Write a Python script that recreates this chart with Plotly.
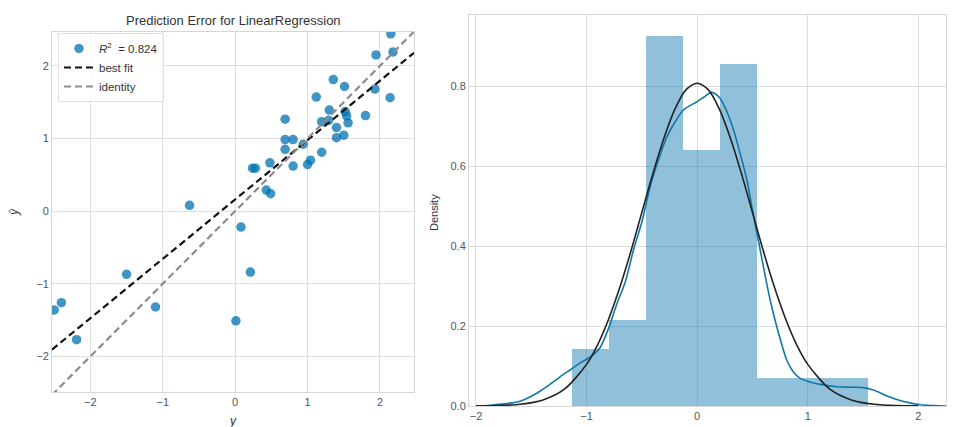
import plotly.graph_objects as go

# ---------------- data: left panel (prediction error) ----------------
y_true = [-2.50, -2.40, -2.19, -1.50, -1.10, -0.63, 0.01, 0.08, 0.21, 0.24, 0.28,
          0.43, 0.49, 0.48, 0.69, 0.69, 0.80, 0.69, 0.80, 0.94, 1.00, 1.04, 1.12,
          1.195, 1.195, 1.29, 1.30, 1.355, 1.40, 1.40, 1.50, 1.51, 1.52, 1.54,
          1.56, 1.80, 1.93, 1.945, 2.14, 2.15, 2.18]
y_pred = [-1.36, -1.26, -1.77, -0.87, -1.32, 0.08, -1.51, -0.22, -0.84, 0.59, 0.59,
          0.29, 0.24, 0.665, 1.265, 0.985, 0.985, 0.85, 0.62, 0.92, 0.64, 0.70, 1.57,
          0.81, 1.23, 1.25, 1.39, 1.81, 1.15, 1.01, 1.045, 1.715, 1.37, 1.31,
          1.215, 1.315, 1.68, 2.15, 1.56, 2.44, 2.19]
bestfit_x = [-2.53, 2.47]
bestfit_y = [-1.907, 2.178]
identity_xy = [-2.53, 2.47]
r2_label = "<i>R</i><sup>2</sup>  = 0.824"

# ---------------- data: right panel (residual density) ----------------
bin_edges = [-1.136, -0.801, -0.467, -0.132, 0.203, 0.537, 0.872, 1.206, 1.541]
bin_density = [0.142, 0.214, 0.925, 0.641, 0.854, 0.0712, 0.0712, 0.0712]

kde_x = [-1.95, -1.87, -1.72, -1.60, -1.45, -1.34, -1.24, -1.15, -1.06, -0.953,
         -0.88, -0.80, -0.72, -0.65, -0.576, -0.50, -0.425, -0.35, -0.274, -0.20,
         -0.124, 0.0, 0.06, 0.133, 0.208, 0.27, 0.329, 0.39, 0.45, 0.50, 0.57,
         0.66, 0.736, 0.81, 0.87, 0.932, 1.02, 1.113, 1.264, 1.40, 1.50, 1.595,
         1.717, 1.867, 2.018, 2.15, 2.26]
kde_y = [0.0, 0.002, 0.006, 0.012, 0.032, 0.052, 0.073, 0.09, 0.107, 0.125,
         0.145, 0.195, 0.26, 0.31, 0.39, 0.46, 0.548, 0.615, 0.673, 0.71,
         0.74, 0.761, 0.772, 0.784, 0.769, 0.735, 0.69, 0.63, 0.565, 0.49, 0.39,
         0.265, 0.182, 0.115, 0.085, 0.069, 0.06, 0.054, 0.048, 0.047, 0.046, 0.04,
         0.025, 0.011, 0.003, 0.001, 0.0]

fit_x = [-2.0, -1.8, -1.6, -1.4, -1.2, -1.0, -0.9, -0.8, -0.7, -0.6, -0.5, -0.4,
         -0.3, -0.2, -0.1, 0.0, 0.1, 0.2, 0.3, 0.4, 0.5, 0.6, 0.7, 0.8, 0.9, 1.0,
         1.2, 1.4, 1.6, 1.8, 2.0]
fit_y = [0.0002, 0.001, 0.0043, 0.0145, 0.042, 0.104, 0.153, 0.2175, 0.296, 0.386,
         0.484, 0.581, 0.670, 0.743, 0.791, 0.807, 0.791, 0.743, 0.670, 0.581,
         0.484, 0.386, 0.296, 0.2175, 0.153, 0.104, 0.042, 0.0145, 0.0043, 0.001,
         0.0002]

x_ticks_left = [-2, -1, 0, 1, 2]
y_ticks_left = [-2, -1, 0, 1, 2]
x_ticks_right = [-2, -1, 0, 1, 2]
y_ticks_right = [0.0, 0.2, 0.4, 0.6, 0.8]

BLUE = "#0072B2"
FONT = "Liberation Sans"
GRID = "#dedede"
LINE = "#d6d6d6"
TICKC = "#555555"

W, H = 956, 427

def px_x(p):
    return p / W

def px_y(p):
    return (H - p) / H

fig = go.Figure()

# left panel
fig.add_trace(go.Scatter(
    x=y_true, y=y_pred, mode="markers", name=r2_label,
    marker=dict(color=BLUE, size=9.5, opacity=0.75, line=dict(width=0)),
    xaxis="x", yaxis="y"))
fig.add_trace(go.Scatter(
    x=bestfit_x, y=bestfit_y, mode="lines", name="best fit",
    line=dict(color="#111111", width=2.2, dash="7px,4px"),
    xaxis="x", yaxis="y"))
fig.add_trace(go.Scatter(
    x=identity_xy, y=identity_xy, mode="lines", name="identity",
    line=dict(color="#8c8c8c", width=2.2, dash="7px,4px"),
    xaxis="x", yaxis="y"))

# right panel
centers = [(bin_edges[i] + bin_edges[i + 1]) / 2 for i in range(len(bin_density))]
widths = [bin_edges[i + 1] - bin_edges[i] for i in range(len(bin_density))]
fig.add_trace(go.Bar(
    x=centers, y=bin_density, width=widths, showlegend=False,
    marker=dict(color="rgba(0,110,170,0.43)", line=dict(width=0)),
    xaxis="x2", yaxis="y2"))
fig.add_trace(go.Scatter(
    x=kde_x, y=kde_y, mode="lines", showlegend=False,
    line=dict(color="#1177a8", width=1.6, shape="spline", smoothing=0.8),
    xaxis="x2", yaxis="y2"))
fig.add_trace(go.Scatter(
    x=fit_x, y=fit_y, mode="lines", showlegend=False,
    line=dict(color="#222222", width=1.6, shape="spline", smoothing=0.8),
    xaxis="x2", yaxis="y2"))

axis_common = dict(
    showgrid=True, gridcolor=GRID, gridwidth=1, zeroline=False,
    showline=True, linecolor=LINE, linewidth=1, mirror=True,
    ticks="", automargin=False,
    tickfont=dict(family=FONT, size=11, color=TICKC),
)

def ann(text, x, y, size, angle=0):
    return dict(text=text, x=px_x(x), y=px_y(y), xref="paper", yref="paper",
                xanchor="center", yanchor="middle", showarrow=False,
                textangle=angle, font=dict(family=FONT, size=size, color="#333333"))

fig.update_layout(
    width=W, height=H,
    margin=dict(l=0, r=0, t=0, b=0, autoexpand=False),
    paper_bgcolor="white", plot_bgcolor="white",
    bargap=0,
    font=dict(family=FONT, color="#333333"),
    xaxis=dict(domain=[px_x(52), px_x(414)], range=[-2.53, 2.47],
               tickvals=x_ticks_left, anchor="y", **axis_common),
    yaxis=dict(domain=[px_y(392), px_y(32)], range=[-2.49, 2.465],
               tickvals=y_ticks_left, anchor="x", **axis_common),
    xaxis2=dict(domain=[px_x(469), px_x(946)], range=[-2.063, 2.25],
                tickvals=x_ticks_right, anchor="y2", **axis_common),
    yaxis2=dict(domain=[px_y(406), px_y(15)], range=[0, 0.9775],
                tickvals=y_ticks_right, tickformat=".1f", anchor="x2", **axis_common),
    legend=dict(x=px_x(58), y=px_y(33), xanchor="left", yanchor="top",
                bgcolor="rgba(255,255,255,0.85)", bordercolor="#e0e0e0", borderwidth=1,
                font=dict(family=FONT, size=11.5, color="#333333"),
                itemwidth=30, tracegroupgap=0),
    annotations=[
        ann("Prediction Error for LinearRegression", 233, 20, 13),
        ann("<i>y</i>", 233, 421, 12),
        ann("<i>ŷ</i>", 14, 212, 12, -90),
        ann("Density", 434, 213, 11, -90),
    ],
)

fig.write_html(
    "out.html",
    config={"displayModeBar": False},
    post_script="document.body.style.margin='0';document.body.style.overflow='hidden';",
)
